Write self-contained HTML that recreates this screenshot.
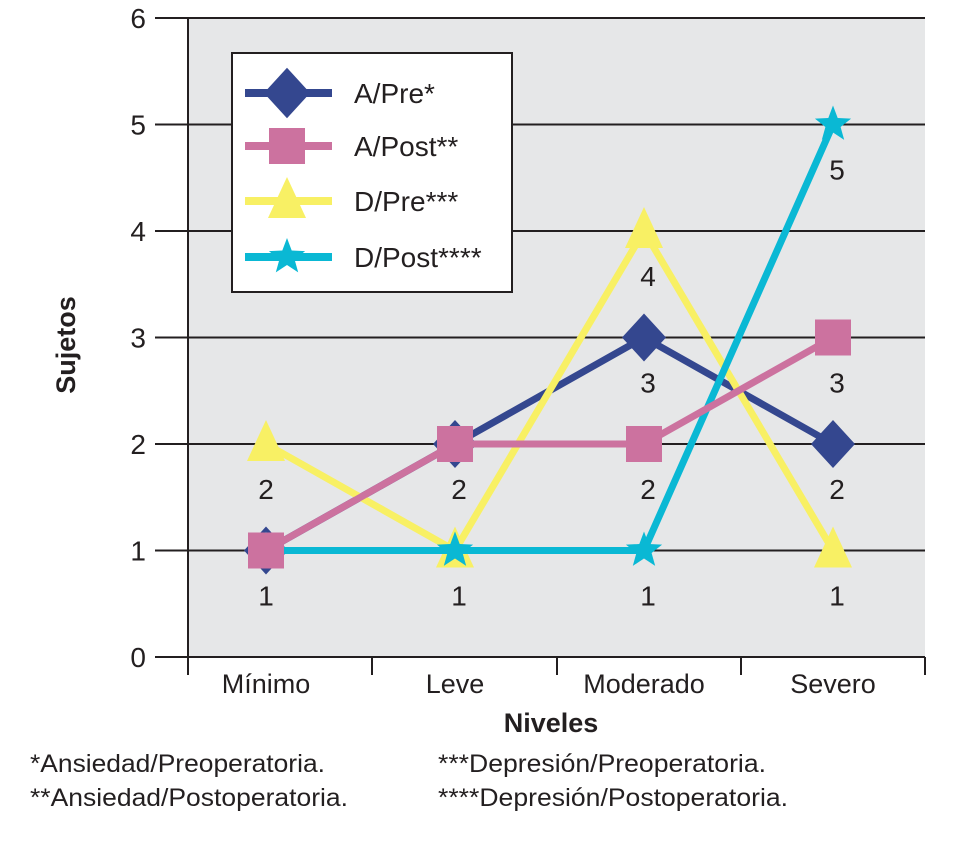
<!DOCTYPE html>
<html><head><meta charset="utf-8"><style>
body{margin:0;background:#fff;width:958px;height:858px;overflow:hidden}
svg text{font-family:"Liberation Sans Narrow","Liberation Sans",sans-serif;fill:#231f20}
</style></head><body>
<svg id="c" width="958" height="858">
<rect x="188" y="18" width="737" height="639" fill="#e6e7e8"/>
<g id="grid"></g>
<g id="series"></g>
<g id="labels"></g>
<g>
<rect x="232" y="53" width="280" height="239" fill="#fff" stroke="#231f20" stroke-width="2"/>
<g id="leg"></g>
</g>
<text x="75" y="345" transform="rotate(-90 75 345)" text-anchor="middle" font-size="27" font-weight="bold">Sujetos</text>
<text x="551" y="732" text-anchor="middle" font-size="27" font-weight="bold">Niveles</text>
<text x="30" y="772" font-size="25" textLength="295" lengthAdjust="spacingAndGlyphs">*Ansiedad/Preoperatoria.</text>
<text x="30" y="806" font-size="25" textLength="318" lengthAdjust="spacingAndGlyphs">**Ansiedad/Postoperatoria.</text>
<text x="438" y="772" font-size="25" textLength="328" lengthAdjust="spacingAndGlyphs">***Depresión/Preoperatoria.</text>
<text x="438" y="806" font-size="25" textLength="350" lengthAdjust="spacingAndGlyphs">****Depresión/Postoperatoria.</text>
</svg>
<script>
const categories=["Mínimo","Leve","Moderado","Severo"];
const yTicks=[0,1,2,3,4,5,6];
const seriesNames=["A/Pre*","A/Post**","D/Pre***","D/Post****"];
const aPre=[1,2,3,2];
const aPost=[1,2,2,3];
const dPre=[2,1,4,1];
const dPost=[1,1,1,5];
const NS="http://www.w3.org/2000/svg";
const colors=["#34478f","#cc729f","#f8f064","#0ab8d4"];
const shapes=["diamond","square","triangle","star"];
const all=[aPre,aPost,dPre,dPost];
const drawOrder=[0,2,3,1];
function y(v){return 657-v*106.5;}
function x(i){return 266+i*189;}
function mk(tag,attrs,parent){const e=document.createElementNS(NS,tag);for(const k in attrs)e.setAttribute(k,attrs[k]);parent.appendChild(e);return e;}
const grid=document.getElementById('grid');
yTicks.forEach(t=>{
 const l=mk('line',{x1:155,x2:925,y1:y(t),y2:y(t),stroke:'#231f20','stroke-width':2},grid);
 
 
 const tx=mk('text',{x:146,y:y(t)+10,'text-anchor':'end','font-size':28},grid);tx.textContent=t;
 
 
});
mk('line',{x1:188,x2:188,y1:18,y2:675,stroke:'#231f20','stroke-width':2},grid);
[188,372,557,741,925].forEach(tx=>{mk('line',{x1:tx,x2:tx,y1:657,y2:675,stroke:'#231f20','stroke-width':2},grid);});
categories.forEach((c,i)=>{const t=mk('text',{x:x(i),y:693,'text-anchor':'middle','font-size':27},grid);t.textContent=c;
 
 });
function marker(shape,cx,cy,col,parent,s){
 s=s||1;
 if(shape==='diamond')return mk('polygon',{points:`${cx},${cy-24*s} ${cx+22*s},${cy} ${cx},${cy+24*s} ${cx-22*s},${cy}`,fill:col},parent);
 if(shape==='square')return mk('rect',{x:cx-18*s,y:cy-18*s,width:36*s,height:36*s,fill:col},parent);
 if(shape==='triangle')return mk('polygon',{points:`${cx},${cy-24*s} ${cx+19*s},${cy+17*s} ${cx-19*s},${cy+17*s}`,fill:col},parent);
 let p=[];for(let k=0;k<10;k++){const r=k%2?8*s:19*s;const a=-Math.PI/2+k*Math.PI/5;p.push((cx+r*Math.cos(a)).toFixed(1)+','+(cy+r*Math.sin(a)).toFixed(1));}
 return mk('polygon',{points:p.join(' '),fill:col},parent);
}
const sg=document.getElementById('series');
drawOrder.forEach(si=>{
 const d=all[si];
 const g=mk('g',{},sg);
 
 
 mk('polyline',{points:d.map((v,i)=>x(i)+','+y(v)).join(' '),fill:'none',stroke:colors[si],'stroke-width':7},g);
 d.forEach((v,i)=>{const m=marker(shapes[si],x(i),y(v),colors[si],g);
  
  });
});
const lg=document.getElementById('labels');
categories.forEach((c,i)=>{
 const vals=[...new Set(all.map(d=>d[i]))];
 vals.forEach(v=>{const t=mk('text',{x:x(i)+(i==0?0:4),y:y(v)+55,'text-anchor':'middle','font-size':28},lg);t.textContent=v;
  
  });
});
const leg=document.getElementById('leg');
const ly=[93,146,201,257];
seriesNames.forEach((n,si)=>{
 const g=mk('g',{},leg);
 
 
 mk('line',{x1:245,x2:332,y1:ly[si],y2:ly[si],stroke:colors[si],'stroke-width':8},g);
 marker(shapes[si],287,ly[si],colors[si],g,si==0?1.05:1);
 const t=mk('text',{x:354,y:ly[si]+10,'font-size':28},g);t.textContent=n;
});
</script>
</body></html>
